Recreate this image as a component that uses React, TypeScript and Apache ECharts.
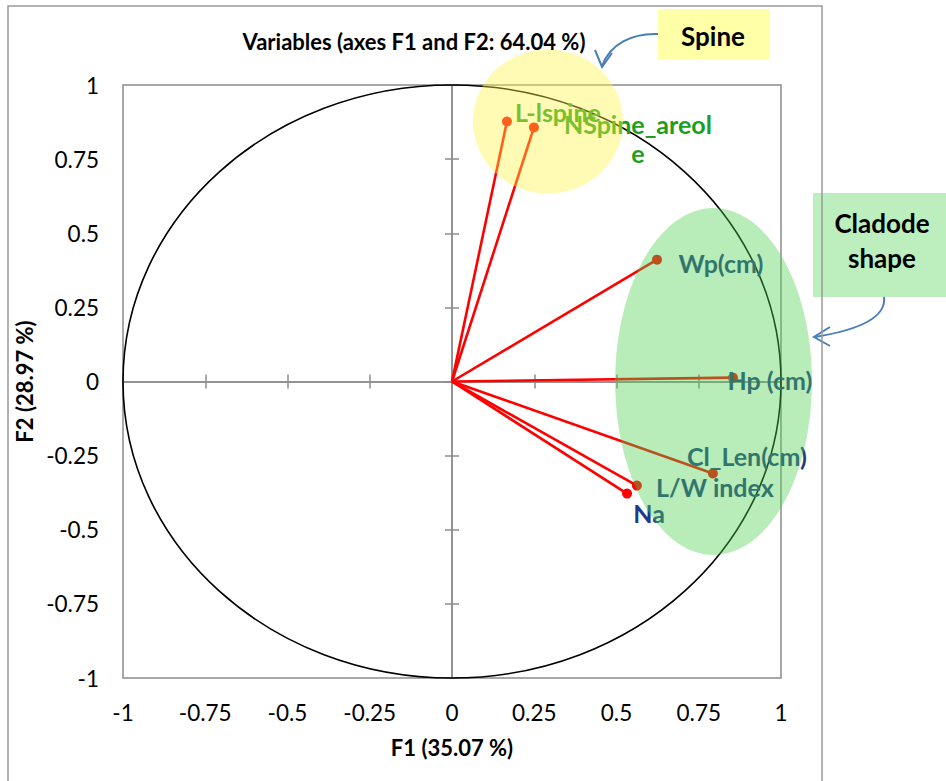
import React, { useEffect, useRef } from 'react';
import * as echarts from 'echarts';

// ---- data ----
const variableNames = ['L-lspine', 'NSpine_areol\ne', 'Wp(cm)', 'Hp (cm)', 'Cl_Len(cm)', 'L/W index', 'Na'];
const f1Values = [0.167, 0.249, 0.623, 0.854, 0.793, 0.562, 0.532];
const f2Values = [0.877, 0.857, 0.411, 0.013, -0.31, -0.351, -0.378];
const axisTicks = [-1, -0.75, -0.5, -0.25, 0, 0.25, 0.5, 0.75, 1];
// correlation circle: center x, center y, radius x, radius y
const correlationCircle = [[0, 0, 1, 1]];
// highlighted groups: center x, center y, radius x, radius y (in axis units)
const spineHighlight = [[0.292, 0.877, 0.228, 0.243]];
const cladodeHighlight = [[0.795, 0, 0.299, 0.585]];

// ---- styles ----
const FONT = 'Lato, "Open Sans", sans-serif';
const spineColor = '#1E9E1E';
const shapeColor = '#1F3A85';
const labelColors = [spineColor, spineColor, shapeColor, shapeColor, shapeColor, shapeColor, shapeColor];
const labelOffsets = [[51, -9], [104, 11], [64, 3], [37, 2], [34, -17], [78, 1], [22, 19]];
const GREY = '#8c8c8c';

function ellipseSeries(data: number[][], fill: string, stroke: string, z: number, lineWidth = 0) {
  return {
    type: 'custom',
    z,
    silent: true,
    clip: false,
    data,
    renderItem: (_p: any, api: any) => {
      const c = api.coord([api.value(0), api.value(1)]);
      const s = api.size([api.value(2), api.value(3)]);
      return {
        type: 'ellipse',
        shape: { cx: c[0], cy: c[1], rx: s[0], ry: s[1] },
        style: { fill, stroke, lineWidth },
      };
    },
  };
}

export default function App() {
  const ref = useRef<HTMLDivElement>(null);
  useEffect(() => {
    if (!ref.current) return;
    const chart = echarts.init(ref.current, undefined, { renderer: 'svg' });
    const tmin = axisTicks[0];
    const tmax = axisTicks[axisTicks.length - 1];
    const tint = axisTicks[1] - axisTicks[0];
    const baseAxis = { type: 'value', min: tmin, max: tmax, interval: tint, splitLine: { show: false } };
    const labelStyle = { fontFamily: FONT, fontSize: 22.5, color: '#000' };
    const nameStyle = { fontFamily: FONT, fontSize: 22, fontWeight: 'bold', color: '#000' };
    const zeroLine = { onZero: true, lineStyle: { color: GREY, width: 1.5 } };
    const tickStyle = { lineStyle: { color: GREY, width: 1.5 }, length: 7 };

    const xAxes = [
      {
        ...baseAxis,
        position: 'bottom',
        axisLine: { show: false, onZero: false },
        axisTick: { show: false },
        axisLabel: { ...labelStyle, margin: 23 },
        name: 'F1 (35.07 %)',
        nameLocation: 'middle',
        nameGap: 58,
        nameTextStyle: nameStyle,
      },
      { ...baseAxis, axisLine: zeroLine, axisTick: { ...tickStyle, inside: false }, axisLabel: { show: false } },
      { ...baseAxis, axisLine: zeroLine, axisTick: { ...tickStyle, inside: true }, axisLabel: { show: false } },
    ];
    const yAxes = [
      {
        ...baseAxis,
        position: 'left',
        axisLine: { show: false, onZero: false },
        axisTick: { show: false },
        axisLabel: { ...labelStyle, margin: 24 },
        name: 'F2 (28.97 %)',
        nameLocation: 'middle',
        nameGap: 78,
        nameTextStyle: nameStyle,
      },
      { ...baseAxis, axisLine: zeroLine, axisTick: { ...tickStyle, inside: false }, axisLabel: { show: false } },
      { ...baseAxis, axisLine: zeroLine, axisTick: { ...tickStyle, inside: true }, axisLabel: { show: false } },
    ];

    const points = variableNames.map((name, i) => ({
      name,
      value: [f1Values[i], f2Values[i]],
      label: {
        show: true,
        formatter: name,
        position: 'inside',
        offset: labelOffsets[i],
        align: 'center',
        verticalAlign: 'middle',
        color: labelColors[i],
        fontFamily: FONT,
        fontSize: 25,
        fontWeight: 'bold',
        lineHeight: 29,
      },
    }));

    const vectors = variableNames.map((_n, i) => ({ coords: [[0, 0], [f1Values[i], f2Values[i]]] }));

    chart.setOption({
      animation: false,
      backgroundColor: '#ffffff',
      grid: { left: 123, right: 165, top: 85, bottom: 103, show: true, borderColor: GREY, borderWidth: 1.5, backgroundColor: 'transparent' },
      xAxis: xAxes,
      yAxis: yAxes,
      series: [
        ellipseSeries(correlationCircle, 'none', '#000000', 1, 1.6),
        {
          type: 'lines',
          coordinateSystem: 'cartesian2d',
          z: 2,
          silent: true,
          data: vectors,
          lineStyle: { color: '#ff0000', width: 2.6, opacity: 1 },
        },
        {
          type: 'scatter',
          z: 3,
          silent: true,
          symbol: 'circle',
          symbolSize: 10,
          itemStyle: { color: '#ff0000', opacity: 1 },
          data: points,
        },
        ellipseSeries(spineHighlight, 'rgba(255,242,68,0.4)', 'none', 6),
        ellipseSeries(cladodeHighlight, 'rgba(78,208,78,0.4)', 'none', 6),
      ],
      graphic: [
        {
          type: 'text',
          x: 414,
          y: 41,
          z: 10,
          style: {
            text: 'Variables (axes F1 and F2: 64.04 %)',
            align: 'center',
            verticalAlign: 'middle',
            font: `bold 22px ${FONT}`,
            fill: '#000',
          },
        },
        { type: 'rect', z: 10, shape: { x: 658, y: 9, width: 112, height: 50 }, style: { fill: '#FFFFA8' } },
        {
          type: 'text',
          x: 713,
          y: 36,
          z: 11,
          style: { text: 'Spine', align: 'center', verticalAlign: 'middle', font: `bold 26px ${FONT}`, fill: '#000' },
        },
        {
          type: 'bezierCurve',
          z: 11,
          shape: { x1: 658, y1: 34, cpx1: 632, cpy1: 33, cpx2: 610, cpy2: 44, x2: 602, y2: 66 },
          style: { stroke: '#4A7EBB', lineWidth: 2, fill: 'none' },
        },
        {
          type: 'polyline',
          z: 11,
          shape: { points: [[595, 50], [602, 67], [612, 53]] },
          style: { stroke: '#4A7EBB', lineWidth: 2, fill: 'none' },
        },
        { type: 'rect', z: 10, shape: { x: 813, y: 193, width: 140, height: 104 }, style: { fill: '#BDEEBD' } },
        {
          type: 'text',
          x: 882,
          y: 240,
          z: 11,
          style: {
            text: 'Cladode\nshape',
            align: 'center',
            verticalAlign: 'middle',
            font: `bold 26px ${FONT}`,
            lineHeight: 35,
            fill: '#000',
          },
        },
        {
          type: 'bezierCurve',
          z: 11,
          shape: { x1: 884, y1: 297, cpx1: 887, cpy1: 320, cpx2: 852, cpy2: 331, x2: 815, y2: 337 },
          style: { stroke: '#4A7EBB', lineWidth: 2, fill: 'none' },
        },
        {
          type: 'polyline',
          z: 11,
          shape: { points: [[830, 327], [814, 337], [830, 346]] },
          style: { stroke: '#4A7EBB', lineWidth: 2, fill: 'none' },
        },
        {
          type: 'rect',
          z: 12,
          shape: { x: 8, y: 6, width: 814, height: 820 },
          style: { fill: 'none', stroke: '#9a9a9a', lineWidth: 1.5 },
        },
      ],
    });
    return () => chart.dispose();
  }, []);
  return <div ref={ref} style={{ position: 'absolute', left: 0, top: 0, width: 946, height: 781 }} />;
}
